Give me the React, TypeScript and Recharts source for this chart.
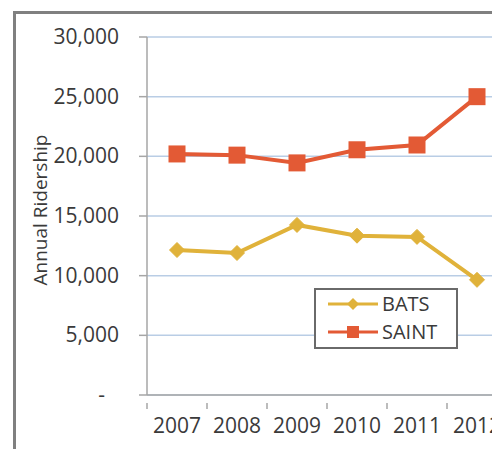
import { CartesianGrid, Label, Line, LineChart, XAxis, YAxis } from "recharts";

const years = [2007, 2008, 2009, 2010, 2011, 2012];
const bats = [12150, 11900, 14250, 13350, 13250, 9650];
const saint = [20200, 20100, 19450, 20550, 20950, 25000];
const yTicks = [0, 5000, 10000, 15000, 20000, 25000, 30000];

const rows = years.map((year, i) => ({ year, BATS: bats[i], SAINT: saint[i] }));

const BATS_COLOR = "#e0b23a";
const SAINT_COLOR = "#e35a35";
const FONT = "'Open Sans', sans-serif";
const TEXT = "#3a3a3a";

const CHART_W = 520;
const CHART_H = 449;
const MARGIN = { top: 37, right: 13, bottom: 24, left: 0 };
const X_AXIS_H = 30;
const Y_AXIS_W = 147;
const HALF_BAND = (CHART_W - MARGIN.left - MARGIN.right - Y_AXIS_W) / years.length / 2;

function Diamond(props: any) {
  const { cx, cy } = props;
  if (cx == null || cy == null) return null;
  const r = 7.5;
  return (
    <path
      d={`M${cx},${cy - r}L${cx + r},${cy}L${cx},${cy + r}L${cx - r},${cy}Z`}
      fill={BATS_COLOR}
      stroke={BATS_COLOR}
      strokeWidth={1}
    />
  );
}

function Square(props: any) {
  const { cx, cy } = props;
  if (cx == null || cy == null) return null;
  const s = 17;
  return <rect x={cx - s / 2} y={cy - s / 2} width={s} height={s} fill={SAINT_COLOR} />;
}

// category labels sit mid-band, tick marks fall on band edges
function YearTick(props: any) {
  const { x, y, payload } = props;
  return (
    <g>
      <line x1={x - HALF_BAND} x2={x - HALF_BAND} y1={y} y2={y + 6} stroke="#a6a6a6" strokeWidth={1.5} />
      <text x={x} y={y + 30} textAnchor="middle" fontFamily={FONT} fontSize={21} fill={TEXT}>
        {payload.value}
      </text>
    </g>
  );
}

function ValueTick(props: any) {
  const { x, y, payload } = props;
  const v = payload.value as number;
  return (
    <text
      x={v === 0 ? x - 14 : x}
      y={y + 7}
      textAnchor="end"
      fontFamily={FONT}
      fontSize={21}
      fill={TEXT}
    >
      {v === 0 ? "-" : v.toLocaleString("en-US")}
    </text>
  );
}

function LegendBox() {
  const items = [
    { name: "BATS", color: BATS_COLOR, marker: "diamond" },
    { name: "SAINT", color: SAINT_COLOR, marker: "square" },
  ];
  return (
    <div
      style={{
        position: "absolute",
        left: 314,
        top: 288,
        width: 140,
        height: 57,
        border: "2px solid #6a6a6a",
        background: "#fff",
        fontFamily: FONT,
        fontSize: 20,
        color: TEXT,
      }}
    >
      {items.map((it) => (
        <div key={it.name} style={{ display: "flex", alignItems: "center", height: 28 }}>
          <svg width={66} height={20}>
            <line x1={12} x2={62} y1={10} y2={10} stroke={it.color} strokeWidth={3} />
            {it.marker === "diamond" ? (
              <path d="M37,4L43,10L37,16L31,10Z" fill={it.color} />
            ) : (
              <rect x={31} y={4} width={12} height={12} fill={it.color} />
            )}
          </svg>
          <span style={{ lineHeight: "20px" }}>{it.name}</span>
        </div>
      ))}
    </div>
  );
}

export default function App() {
  return (
    <div
      style={{
        position: "fixed",
        left: 0,
        top: 0,
        width: 492,
        height: 449,
        overflow: "hidden",
        background: "#fff",
      }}
    >
      <div
        style={{
          position: "absolute",
          left: 13,
          top: 11,
          width: 600,
          height: 500,
          borderLeft: "3px solid #808080",
          borderTop: "3px solid #808080",
        }}
      />
      <div style={{ position: "absolute", left: 0, top: 0 }}>
        <LineChart width={CHART_W} height={CHART_H} data={rows} margin={MARGIN}>
          <CartesianGrid horizontal vertical={false} stroke="#b9cde5" strokeWidth={1.5} />
          <XAxis
            dataKey="year"
            type="number"
            domain={[2006.5, 2012.5]}
            ticks={years}
            height={X_AXIS_H}
            axisLine={{ stroke: "#a6a6a6", strokeWidth: 1.5 }}
            tickLine={false}
            tick={<YearTick />}
            interval={0}
          />
          <YAxis
            type="number"
            domain={[0, 30000]}
            ticks={yTicks}
            width={Y_AXIS_W}
            axisLine={{ stroke: "#a6a6a6", strokeWidth: 1.5 }}
            tickLine={{ stroke: "#a6a6a6", strokeWidth: 1.5 }}
            tickSize={8}
            tickMargin={20}
            tick={<ValueTick />}
            interval={0}
          >
            <Label
              value="Annual Ridership"
              angle={-90}
              position="insideLeft"
              offset={40}
              dy={-6}
              style={{ fontFamily: FONT, fontSize: 19, fill: TEXT, textAnchor: "middle" }}
            />
          </YAxis>
          <Line
            dataKey="BATS"
            stroke={BATS_COLOR}
            strokeWidth={4}
            dot={<Diamond />}
            activeDot={false}
            isAnimationActive={false}
          />
          <Line
            dataKey="SAINT"
            stroke={SAINT_COLOR}
            strokeWidth={4}
            dot={<Square />}
            activeDot={false}
            isAnimationActive={false}
          />
        </LineChart>
      </div>
      <LegendBox />
    </div>
  );
}
